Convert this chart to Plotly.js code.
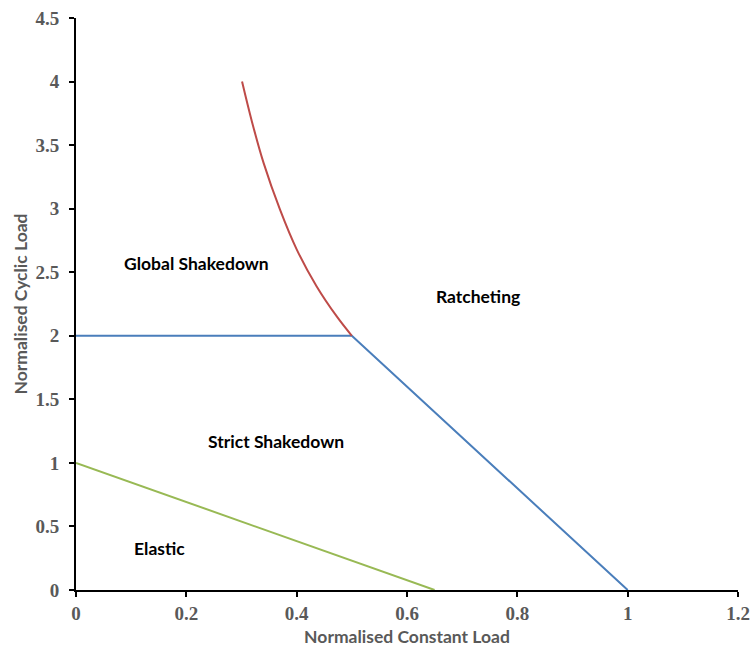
<!DOCTYPE html>
<html>
<head>
<meta charset="utf-8">
<script src="https://cdn.plot.ly/plotly-3.0.1.min.js"></script>
<style>
  html, body { margin: 0; padding: 0; background: #fff; }
  #chart { width: 750px; height: 647px; }
</style>
</head>
<body>
<div id="chart"></div>
<script>
// Global shakedown / ratcheting boundary
const ratchetX = [0.301, 0.318, 0.340, 0.370, 0.400, 0.436, 0.473, 0.5];
const ratchetY = [4.0, 3.70, 3.36, 2.99, 2.68, 2.39, 2.15, 2.0];

// Strict shakedown limit
const shakedownX = [0, 0.5, 1.0];
const shakedownY = [2, 2, 0];

// Elastic limit
const elasticX = [0, 0.65];
const elasticY = [1, 0];

// Region labels
const regionNames = ['Global Shakedown', 'Ratcheting', 'Strict Shakedown', 'Elastic'];
const regionX = [0.219, 0.729, 0.363, 0.152];
const regionY = [2.57, 2.31, 1.17, 0.33];

const xTicks = [0, 0.2, 0.4, 0.6, 0.8, 1, 1.2];
const yTicks = [0, 0.5, 1, 1.5, 2, 2.5, 3, 3.5, 4, 4.5];

const traces = [
  { x: shakedownX, y: shakedownY, mode: 'lines', line: { color: '#4a7ebb', width: 2 }, hoverinfo: 'skip' },
  { x: elasticX, y: elasticY, mode: 'lines', line: { color: '#98b954', width: 2 }, hoverinfo: 'skip' },
  { x: ratchetX, y: ratchetY, mode: 'lines', line: { color: '#be4b48', width: 2, shape: 'spline', smoothing: 1 }, hoverinfo: 'skip' }
];

const tickFont = { family: '"Liberation Serif", "DejaVu Serif", serif', size: 19, color: '#595959', weight: 'bold' };
const titleFont = { family: 'Lato, "Open Sans", sans-serif', size: 17.5, color: '#595959', weight: 'bold' };

const layout = {
  width: 750, height: 647,
  margin: { l: 76, r: 12, t: 18, b: 57 },
  paper_bgcolor: '#ffffff', plot_bgcolor: '#ffffff',
  showlegend: false,
  xaxis: {
    range: [0, 1.2], tickvals: xTicks, ticktext: xTicks.map(String),
    showgrid: false, zeroline: false,
    showline: true, linecolor: '#000', linewidth: 2,
    ticks: 'outside', ticklen: 5, tickwidth: 2, tickcolor: '#000',
    tickfont: tickFont,
    title: { text: 'Normalised Constant Load', font: titleFont, standoff: 10 }
  },
  yaxis: {
    range: [0, 4.5], tickvals: yTicks, ticktext: yTicks.map(String),
    showgrid: false, zeroline: false,
    showline: true, linecolor: '#000', linewidth: 2,
    ticks: 'outside', ticklen: 5, tickwidth: 2, tickcolor: '#000',
    tickfont: tickFont, ticklabelstandoff: 6,
    title: { text: 'Normalised Cyclic Load', font: titleFont, standoff: 3 }
  },
  annotations: regionNames.map((t, i) => ({
    x: regionX[i], y: regionY[i], xref: 'x', yref: 'y', text: t, showarrow: false,
    font: { family: 'Lato, "Open Sans", sans-serif', size: 17.5, color: '#000', weight: 'bold' }
  }))
};

Plotly.newPlot('chart', traces, layout, { displayModeBar: false, staticPlot: true });
</script>
</body>
</html>
